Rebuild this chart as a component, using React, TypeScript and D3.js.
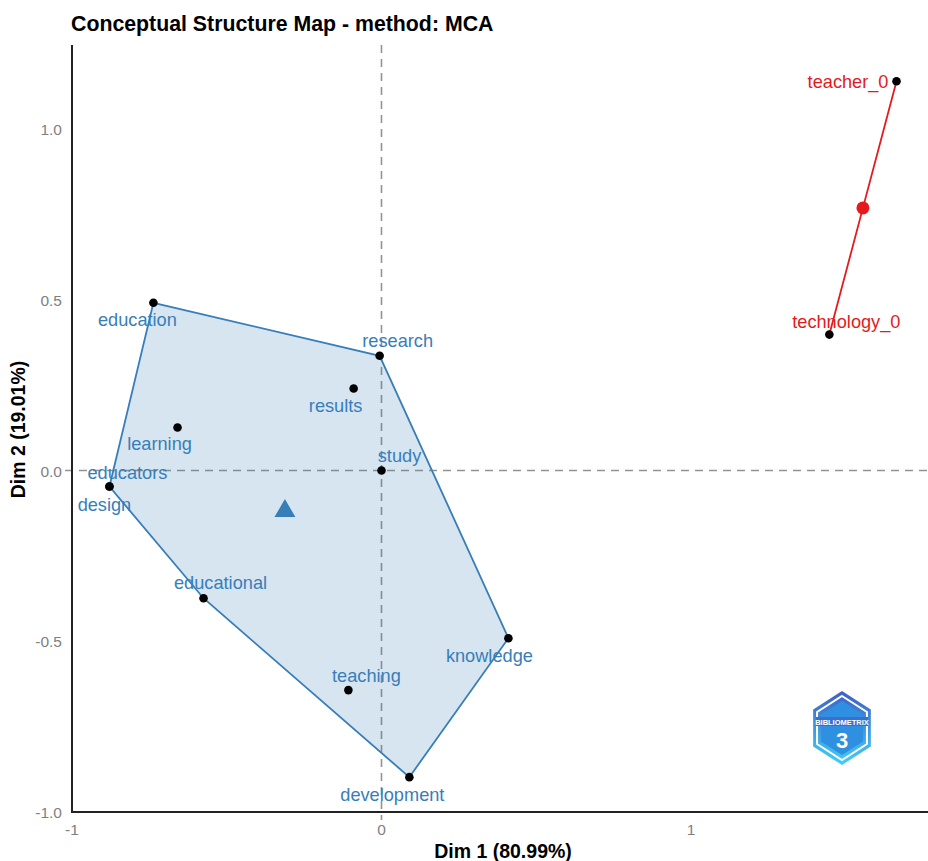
import React, { useRef, useEffect } from 'react';
import * as d3 from 'd3';

// cluster 1 words (blue) and cluster 2 words (red)
const words1 = ['education', 'research', 'results', 'learning', 'study', 'educators', 'design', 'educational', 'teaching', 'development', 'knowledge'];
const dim1a = [-0.737, -0.006, -0.090, -0.659, 0.0, -0.879, -0.879, -0.575, -0.107, 0.090, 0.410];
const dim2a = [0.491, 0.336, 0.240, 0.126, 0.0, -0.047, -0.047, -0.374, -0.643, -0.898, -0.491];

const words2 = ['teacher_0', 'technology_0'];
const dim1b = [1.664, 1.447];
const dim2b = [1.140, 0.398];

const xTicks = [-1, 0, 1];
const yTicks = [-1.0, -0.5, 0.0, 0.5, 1.0];

// label nudges (px) as ggrepel placed them
const labelNudge: Record<string, [number, number, string]> = {
    education: [-16, 23, 'middle'],
    research: [18, -9, 'middle'],
    results: [-18, 23, 'middle'],
    learning: [-18, 23, 'middle'],
    study: [18, -9, 'middle'],
    educators: [18, -8, 'middle'],
    design: [-5, 24, 'middle'],
    educational: [17, -9, 'middle'],
    teaching: [18, -8, 'middle'],
    development: [-17, 24, 'middle'],
    knowledge: [-19, 24, 'middle'],
    teacher_0: [-8, 7, 'end'],
    technology_0: [17, -7, 'middle'],
};

const BLUE = '#377EB8';
const RED = '#E41A1C';

export default function App() {
    const svgRef = useRef<SVGSVGElement>(null);
    const width = 928;
    const height = 861;

    useEffect(() => {
        if (!svgRef.current) return;
        const svg = d3.select(svgRef.current);
        svg.selectAll('*').remove();

        const margin = { top: 45, right: 0, bottom: 49, left: 72 };
        const x = d3.scaleLinear().domain([-1, 1]).range([72, 691]);
        const y = d3.scaleLinear().domain([-1, 1]).range([812, 129]);
        const font = 'Liberation Sans, Arial, sans-serif';
        const hyphen = (s: string) => s.replace('\u2212', '-');

        // title
        svg.append('text')
            .attr('x', 71).attr('y', 31)
            .attr('font-family', font).attr('font-weight', 'bold').attr('font-size', 21.3)
            .attr('fill', '#000')
            .text('Conceptual Structure Map - method: MCA');

        // reference lines
        svg.append('line')
            .attr('x1', 65).attr('x2', width)
            .attr('y1', y(0)).attr('y2', y(0))
            .attr('stroke', '#939393').attr('stroke-width', 1.6).attr('stroke-dasharray', '8,6');
        svg.append('line')
            .attr('x1', x(0)).attr('x2', x(0))
            .attr('y1', margin.top).attr('y2', height - margin.bottom + 8)
            .attr('stroke', '#939393').attr('stroke-width', 1.6).attr('stroke-dasharray', '8,6');

        // cluster 1 hull
        const pts1: [number, number][] = dim1a.map((d, i) => [x(d), y(dim2a[i])]);
        const hull = d3.polygonHull(pts1);
        if (hull) {
            svg.append('path')
                .attr('d', 'M' + hull.map(p => p.join(',')).join('L') + 'Z')
                .attr('fill', BLUE).attr('fill-opacity', 0.2)
                .attr('stroke', BLUE).attr('stroke-width', 1.8);
        }

        // cluster 2 segment through centroid
        const c2x = d3.mean(dim1b)!;
        const c2y = d3.mean(dim2b)!;
        svg.append('path')
            .attr('d', d3.line()([[x(dim1b[0]), y(dim2b[0])], [x(c2x), y(c2y)], [x(dim1b[1]), y(dim2b[1])]]))
            .attr('fill', 'none').attr('stroke', RED).attr('stroke-width', 1.8);

        // centroids
        const c1x = d3.mean(dim1a)!;
        const c1y = d3.mean(dim2a)!;
        svg.append('path')
            .attr('d', d3.symbol().type(d3.symbolTriangle).size(190)())
            .attr('transform', `translate(${x(c1x)},${y(c1y)})`)
            .attr('fill', BLUE);
        svg.append('circle')
            .attr('cx', x(c2x)).attr('cy', y(c2y)).attr('r', 6.5)
            .attr('fill', RED);

        // points
        const all = [
            ...words1.map((w, i) => ({ w, d1: dim1a[i], d2: dim2a[i], col: BLUE })),
            ...words2.map((w, i) => ({ w, d1: dim1b[i], d2: dim2b[i], col: RED })),
        ];
        svg.append('g').selectAll('circle').data(all).join('circle')
            .attr('cx', d => x(d.d1)).attr('cy', d => y(d.d2)).attr('r', 4.3)
            .attr('fill', '#000');

        // labels
        svg.append('g').selectAll('text').data(all).join('text')
            .attr('x', d => x(d.d1) + labelNudge[d.w][0])
            .attr('y', d => y(d.d2) + labelNudge[d.w][1])
            .attr('text-anchor', d => labelNudge[d.w][2])
            .attr('font-family', font).attr('font-size', 18.2)
            .attr('fill', d => d.col)
            .text(d => d.w);

        // axes lines
        svg.append('line')
            .attr('x1', 72).attr('x2', 72).attr('y1', margin.top).attr('y2', 813)
            .attr('stroke', '#222').attr('stroke-width', 2);
        svg.append('line')
            .attr('x1', 71).attr('x2', width).attr('y1', 812).attr('y2', 812)
            .attr('stroke', '#222').attr('stroke-width', 2);

        // tick labels
        svg.append('g').selectAll('text').data(xTicks).join('text')
            .attr('x', d => x(d)).attr('y', 835)
            .attr('text-anchor', 'middle')
            .attr('font-family', font).attr('font-size', 15.5).attr('fill', '#7f7f7f')
            .text(d => hyphen(d3.format('d')(d)));
        svg.append('g').selectAll('text').data(yTicks).join('text')
            .attr('x', 62).attr('y', d => y(d) + 6)
            .attr('text-anchor', 'end')
            .attr('font-family', font).attr('font-size', 15.5).attr('fill', '#7f7f7f')
            .text(d => hyphen(d3.format('.1f')(d)));

        // axis titles
        svg.append('text')
            .attr('x', 503).attr('y', 858)
            .attr('text-anchor', 'middle')
            .attr('font-family', font).attr('font-weight', 'bold').attr('font-size', 19.5)
            .text('Dim 1 (80.99%)');
        svg.append('text')
            .attr('transform', `translate(25,${y(0.12)}) rotate(-90)`)
            .attr('text-anchor', 'middle')
            .attr('font-family', font).attr('font-weight', 'bold').attr('font-size', 19.5)
            .text('Dim 2 (19.01%)');

        // bibliometrix logo
        const logo = svg.append('g').attr('transform', 'translate(842,728)');
        const grad = svg.append('defs').append('linearGradient')
            .attr('id', 'logoGrad').attr('x1', 0).attr('x2', 0).attr('y1', 0).attr('y2', 1);
        grad.append('stop').attr('offset', '0%').attr('stop-color', '#3f5fc8');
        grad.append('stop').attr('offset', '100%').attr('stop-color', '#3fd0f5');
        const hex = (r: number) => d3.range(6).map(i => {
            const a = Math.PI / 3 * i - Math.PI / 2;
            return [r * Math.cos(a) * 0.9, r * Math.sin(a)] as [number, number];
        });
        logo.append('path').attr('d', 'M' + hex(37).map(p => p.join(',')).join('L') + 'Z').attr('fill', 'url(#logoGrad)');
        logo.append('path').attr('d', 'M' + hex(32).map(p => p.join(',')).join('L') + 'Z')
            .attr('fill', 'none').attr('stroke', '#fff').attr('stroke-width', 2);
        logo.append('path').attr('d', 'M' + hex(27).map(p => p.join(',')).join('L') + 'Z').attr('fill', '#2f8fe0');
        logo.append('rect').attr('x', -26).attr('y', -11).attr('width', 52).attr('height', 9).attr('fill', '#3a6fd0');
        logo.append('text').attr('x', 0).attr('y', -3.5).attr('text-anchor', 'middle')
            .attr('font-family', font).attr('font-weight', 'bold').attr('font-size', 7.5).attr('fill', '#fff')
            .text('BIBLIOMETRIX');
        logo.append('text').attr('x', 0).attr('y', 20).attr('text-anchor', 'middle')
            .attr('font-family', font).attr('font-weight', 'bold').attr('font-size', 22).attr('fill', '#fff')
            .text('3');
    }, []);

    return (
        <svg
            ref={svgRef}
            width={width}
            height={height}
            viewBox={`0 0 ${width} ${height}`}
            style={{ display: 'block', position: 'absolute', left: 0, top: 0, background: '#fff' }}
        />
    );
}
